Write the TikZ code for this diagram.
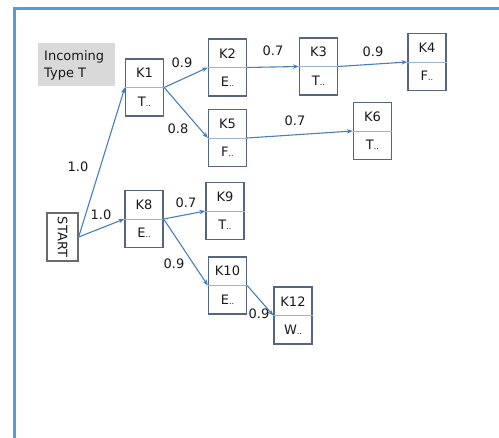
\documentclass[tikz,border=0pt]{standalone}
\usepackage{fontspec}
\setmainfont{DejaVu Sans}
\usetikzlibrary{arrows.meta}
\definecolor{framec}{HTML}{5B9BD5}
\definecolor{boxc}{HTML}{56667F}
\definecolor{startc}{HTML}{6A6A6A}
\definecolor{splitc}{HTML}{9DB4D8}
\definecolor{edgec}{HTML}{4A7EBB}
\definecolor{notec}{HTML}{D9D9D9}
\definecolor{txt}{HTML}{1A1A1A}
\tikzset{
  kbox/.style={draw=boxc, line width=1.3pt, minimum width=38pt, minimum height=57pt, inner sep=0pt, fill=white},
  ktext/.style={font=\fontsize{13}{15}\selectfont, text=txt, inner sep=0pt},
  divider/.style={draw=splitc, line width=0.9pt},
  link/.style={draw=edgec, line width=1.1pt, -{Stealth[length=6pt,width=4.5pt]}},
  lbl/.style={font=\fontsize{13}{15}\selectfont, text=txt, inner sep=0pt},
  frame/.style={draw=framec, line width=3pt},
}
% small trailing dots of an abbreviated type
\newcommand\abbr[1]{#1{\fontsize{8}{9}\selectfont..}}
% a two-part record box: name on top, abbreviated type below
\newcommand\recbox[4]{%
  \node[kbox] (#1) at (#2,#3) {};
  \draw[divider] (#1.west) -- (#1.east);
  \node[ktext] (#1-name) at ([yshift=14.25pt]#1.center) {#1};
  \node[ktext] (#1-type) at ([yshift=-14.25pt]#1.center) {\abbr{#4}};
}
\begin{document}
\begin{tikzpicture}[x=1pt,y=-1pt]
\useasboundingbox (0,0) rectangle (499,438);
\fill[white] (0,0) rectangle (499,438);
\draw[frame] (14,440) -- (14,9) -- (501,9);

% note box
\node[fill=notec, minimum width=77pt, minimum height=43pt, inner sep=0pt] (note) at (76.5,64.5) {};
\node[font=\fontsize{13}{17}\selectfont, text=txt, align=left, anchor=west, inner sep=0pt] (notetext) at (44,65) {Incoming\\Type T};

% start node
\node[draw=startc, line width=1.3pt, minimum width=31pt, minimum height=48pt, inner sep=0pt] (START) at (62.5,237) {};
\node[ktext, rotate=-90] (START-label) at (START.center) {START};

\recbox{K1}{144.5}{87.5}{T}
\recbox{K2}{227.5}{67.5}{E}
\recbox{K3}{318.5}{66.5}{T}
\recbox{K4}{427}{62}{F}
\recbox{K5}{227.5}{138}{F}
\recbox{K6}{372.5}{131}{T}
\recbox{K8}{144}{219}{E}
\recbox{K9}{225}{211}{T}
\recbox{K10}{227.5}{285.5}{E}
\recbox{K12}{293}{315.5}{W}

% transitions
\draw[link] (START.east) -- (K1.west);
\draw[link] (START.east) -- (K8.west);
\draw[link] (K1.east) -- (K2.west);
\draw[link] (K1.east) -- (K5.west);
\draw[link] (K2.east) -- (K3.west);
\draw[link] (K3.east) -- (K4.west);
\draw[link] (K5.east) -- (K6.west);
\draw[link] (K8.east) -- (K9.west);
\draw[link] (K8.east) -- (K10.west);
\draw[link] (K10.east) -- (K12.west);

% transition weights
\node[lbl] (w1) at (78,167) {1.0};
\node[lbl] (w2) at (101,215) {1.0};
\node[lbl] (w3) at (182,63) {0.9};
\node[lbl] (w4) at (178,129) {0.8};
\node[lbl] (w5) at (273,51) {0.7};
\node[lbl] (w6) at (373,52) {0.9};
\node[lbl] (w7) at (295,121) {0.7};
\node[lbl] (w8) at (186,203) {0.7};
\node[lbl] (w9) at (174,264) {0.9};
\node[lbl] (w10) at (259,314) {0.9};
\end{tikzpicture}
\end{document}
